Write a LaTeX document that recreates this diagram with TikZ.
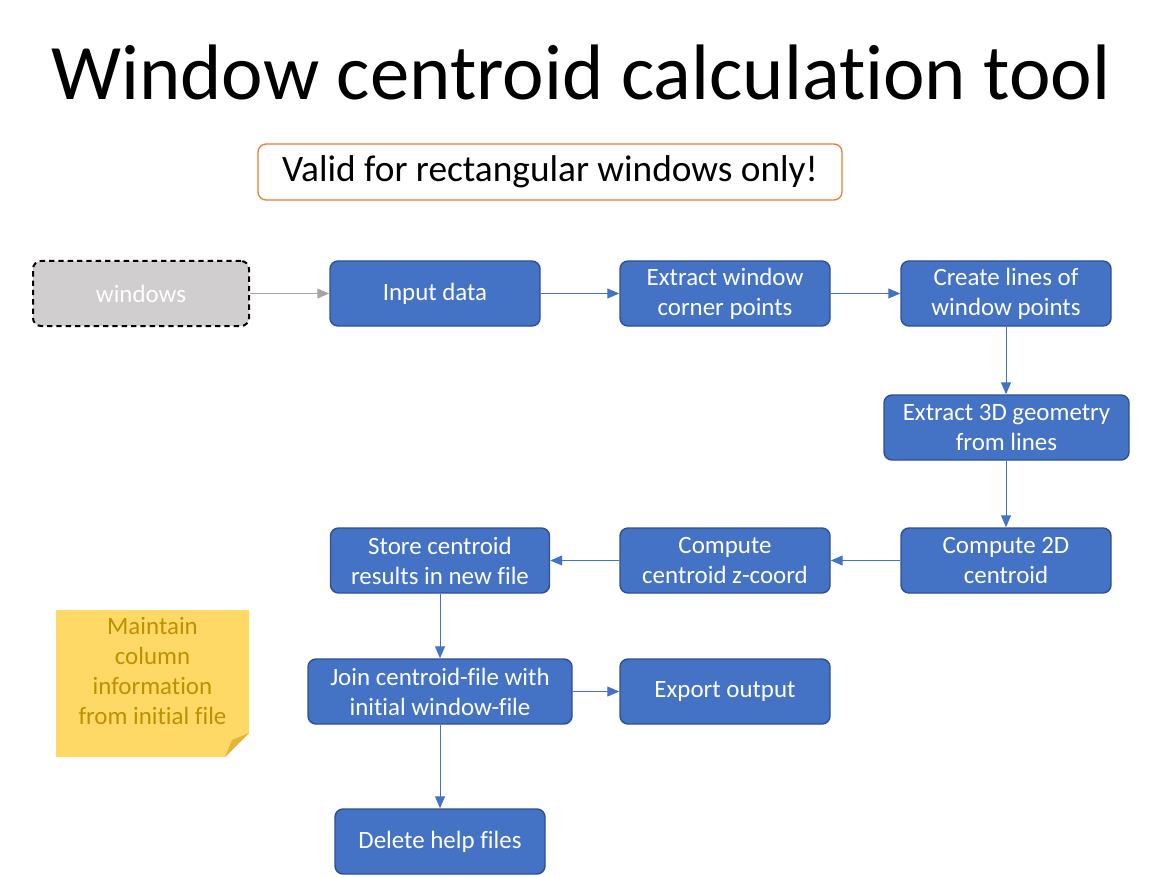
\documentclass[tikz,border=0pt]{standalone}
\usepackage{fontspec}
\setmainfont{Carlito}[Ligatures=NoCommon]
\usetikzlibrary{arrows.meta}
\definecolor{boxblue}{HTML}{4472C4}
\definecolor{boxline}{HTML}{2F528F}
\definecolor{inputgray}{HTML}{D0CECE}
\definecolor{arrowgray}{HTML}{A5A5A5}
\definecolor{warnorange}{HTML}{ED7D31}
\definecolor{notefill}{HTML}{FFD966}
\definecolor{notefold}{HTML}{E2B53A}
\definecolor{notetext}{HTML}{BF9000}
\begin{document}
\begin{tikzpicture}[x=0.75pt, y=-0.75pt,
    stepbox/.style={draw=boxline, fill=boxblue, line width=1.1pt, rounded corners=6pt,
        text=white, align=center, font=\fontsize{18.7}{22.5}\selectfont,
        minimum width=157.5pt, minimum height=48.75pt, inner sep=2pt},
    flow/.style={draw=boxblue, line width=0.75pt, -{Triangle[length=9pt,width=7.5pt]}}]
    \useasboundingbox (0,0) rectangle (1163,877);
    \node[anchor=base] (title) at (581,100) {\fontsize{59}{70}\selectfont Window centroid calculation tool};
    \node[draw=warnorange, line width=1pt, rounded corners=6pt, fill=white, minimum width=438pt, minimum height=42pt, font=\fontsize{28}{32}\selectfont] (valid) at (550,172) {Valid for rectangular windows only!};

    \node[stepbox, fill=inputgray, draw=black, line width=1.5pt, dash pattern=on 4pt off 3pt, minimum width=162pt] (windows) at (141,293.5) {windows};
    \node[stepbox] (input) at (435,293.5) {Input data};
    \node[stepbox] (corners) at (725,293.5) {Extract window\\corner points};
    \node[stepbox] (lines) at (1006,293.5) {Create lines of\\window points};
    \node[stepbox, minimum width=183.75pt] (geom) at (1006.5,427.5) {Extract 3D geometry\\from lines};
    \node[stepbox] (cent2d) at (1006,560.5) {Compute 2D\\centroid};
    \node[stepbox] (centz) at (725,560.5) {Compute\\centroid z-coord};
    \node[stepbox, minimum width=164.25pt] (store) at (440,560.5) {Store centroid\\results in new file};
    \node[stepbox, minimum width=198pt] (join) at (440,691.5) {Join centroid-file with\\initial window-file};
    \node[stepbox] (export) at (725,691.5) {Export output};
    \node[stepbox] (delete) at (440,841.5) {Delete help files};

    \fill[notefill] (56,610) -- (249,610) -- (249,733) -- (225,757) -- (56,757) -- cycle;
    \fill[notefold] (249,733) -- (225,757) -- (232,740) -- cycle;
    \node[align=center, text=notetext, font=\fontsize{18.7}{22.5}\selectfont] (note) at (152.5,671) {Maintain\\column\\information\\from initial file};

    \draw[flow, draw=arrowgray, -{Triangle[length=9pt,width=7.5pt,fill=arrowgray]}] (windows) -- (input);
    \draw[flow] (input) -- (corners);
    \draw[flow] (corners) -- (lines);
    \draw[flow] (lines) -- (lines |- geom.north);
    \draw[flow] (geom.south -| cent2d) -- (cent2d);
    \draw[flow] (cent2d) -- (centz);
    \draw[flow] (centz) -- (store);
    \draw[flow] (store) -- (join);
    \draw[flow] (join) -- (export);
    \draw[flow] (join) -- (delete);
\end{tikzpicture}
\end{document}
